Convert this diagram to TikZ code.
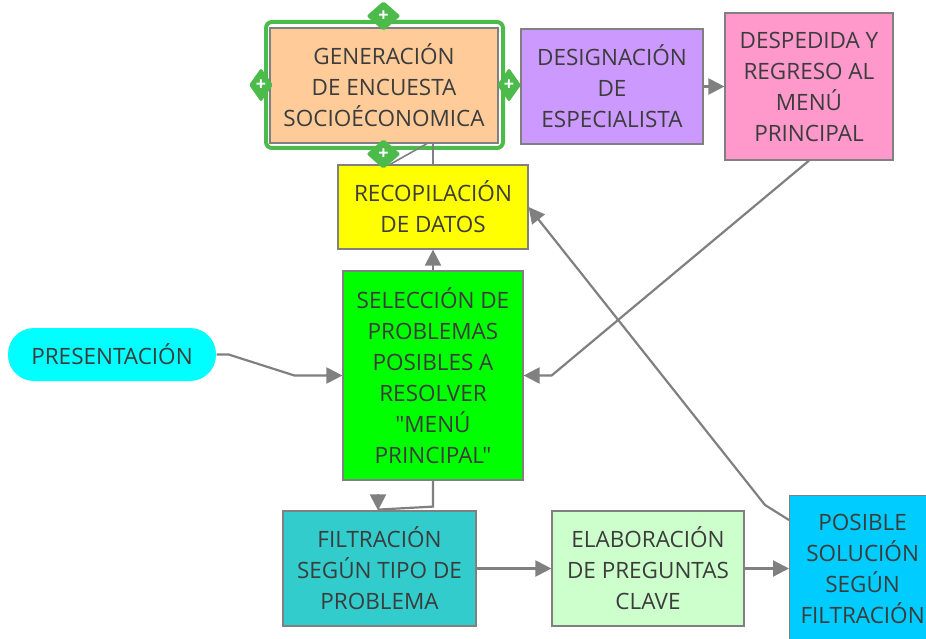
\documentclass[tikz,border=0pt]{standalone}
\usepackage{fontspec}
\setmainfont{Open Sans}[Ligatures=TeXOff]
\usetikzlibrary{shapes.geometric,arrows.meta,positioning,calc}
\definecolor{lnkgray}{RGB}{128,128,128}
\definecolor{txtgray}{RGB}{60,60,60}
\definecolor{selgreen}{RGB}{76,187,76}
\definecolor{peach}{RGB}{255,204,153}
\definecolor{lilac}{RGB}{204,153,255}
\definecolor{rose}{RGB}{255,153,204}
\definecolor{aqua}{RGB}{0,255,255}
\definecolor{limebox}{RGB}{0,255,0}
\definecolor{yellowbox}{RGB}{255,255,0}
\definecolor{tealbox}{RGB}{51,204,204}
\definecolor{mint}{RGB}{204,255,204}
\definecolor{skybox}{RGB}{0,204,255}
\begin{document}
\begin{tikzpicture}[x=1pt,y=-1pt,
    box/.style={draw=lnkgray,line width=1.2pt,inner sep=0pt,align=center,
                text=txtgray,font=\fontsize{22.5}{31}\selectfont},
    link/.style={draw=lnkgray,line width=2.2pt},
    arr/.style={link,-{Triangle[length=16pt,width=16pt]}},
    handle/.style={diamond,fill=selgreen,inner sep=0pt,rounded corners=2pt,
                   minimum width=34pt,minimum height=30pt,text=white,
                   font=\bfseries\fontsize{18}{18}\selectfont},
    handlev/.style={handle,minimum width=24pt,minimum height=34pt}]
    \useasboundingbox (0,0) rectangle (926,639);
    \node[draw=selgreen,line width=4pt,rounded corners=6pt,
          minimum width=237pt,minimum height=126pt] (gensel) at (384.5,85) {};
    \node[box,fill=peach,minimum width=228pt,minimum height=115pt]
      (gen) at (384,85.5) {GENERACIÓN\\DE ENCUESTA\\SOCIOÉCONOMICA};
    \node[box,fill=lilac,minimum width=182pt,minimum height=115pt]
      (desig) at (612,86.5) {DESIGNACIÓN\\DE\\ESPECIALISTA};
    \node[box,fill=rose,minimum width=168pt,minimum height=147pt]
      (desp) at (809,86.5) {DESPEDIDA Y\\REGRESO AL\\MENÚ\\PRINCIPAL};
    \node[box,fill=yellowbox,minimum width=190pt,minimum height=84pt]
      (recop) at (433,207) {RECOPILACIÓN\\DE DATOS};
    \node[box,fill=limebox,minimum width=180pt,minimum height=209pt]
      (sel) at (433,375.5)
      {SELECCIÓN DE\\PROBLEMAS\\POSIBLES A\\RESOLVER\\"MENÚ\\PRINCIPAL"};
    \node[box,draw=none,fill=aqua,rounded corners=26pt,
          minimum width=208pt,minimum height=53pt]
      (pres) at (112,354.5) {PRESENTACIÓN};
    \node[box,fill=tealbox,minimum width=193pt,minimum height=115pt]
      (filt) at (379.5,568.5) {FILTRACIÓN\\SEGÚN TIPO DE\\PROBLEMA};
    \node[box,fill=mint,minimum width=192pt,minimum height=115pt]
      (elab) at (648,568.5) {ELABORACIÓN\\DE PREGUNTAS\\CLAVE};
    \node[box,fill=skybox,minimum width=146pt,minimum height=146pt,anchor=north west]
      (posib) at (789,495) {POSIBLE\\SOLUCIÓN\\SEGÚN\\FILTRACIÓN};
    \draw[arr] (pres.east) -- ++(12,0) -- ($(sel.west)+(-48,0)$) -- (sel.west);
    \draw[arr] (desp.south) -- ($(sel.east)+(28,0)$) -- (sel.east);
    \draw[arr] ($(posib.north west)+(0,25)$) -- ++(-24,-15) -- (recop.east);
    \draw[arr] (sel.north) -- (recop.south);
    \draw[link] (sel.south) -- ++(0,26) -- ++(-55,3);
    \draw[arr] ($(filt.north)+(-1.5,-16)$) -- ($(filt.north)+(-1.5,0)$);
    \draw[arr] (desig.east) -- (desp.west);
    \draw[arr] (filt.east) -- (elab.west);
    \draw[arr] (elab.east) -- (posib.west |- elab.east);
    \draw[link,line width=1.6pt] (gensel.east) -- (desig.west);
    \draw[link,line width=1.6pt] (recop.north) -- (recop.north |- gen.south);
    \draw[link,line width=1.6pt] ($(recop.north)+(-43,0)$) -- ($(gen.south)+(43,0)$);
    \draw[link,line width=1.6pt] (gen.south) -- (gen.south |- recop.north);
    \node[handle] at ($(gensel.north)+(-1,-4)$) {+};
    \node[handle] at ($(gensel.south)+(-1,4)$) {+};
    \node[handlev] at ($(gensel.west)+(-3,0)$) {+};
    \node[handlev] at ($(gensel.east)+(4,0)$) {+};
\end{tikzpicture}
\end{document}
